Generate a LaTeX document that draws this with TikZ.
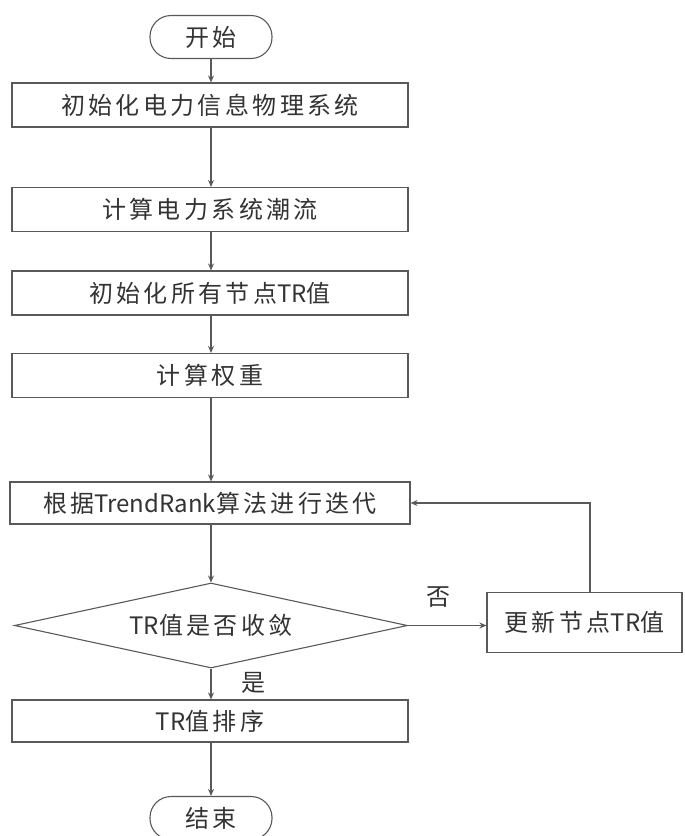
\documentclass[tikz,border=0pt]{standalone}
\usepackage{fontspec}
\setmainfont[LetterSpace=14]{Noto Sans CJK SC}
\newfontfamily\lat{Noto Sans CJK SC}
\usetikzlibrary{arrows.meta,shapes.geometric}
\begin{document}
\begin{tikzpicture}[x=1pt,y=-1pt,
  line/.style={draw=black!65,line width=1.1pt},
  arr/.style={line,-{Stealth[length=7pt,width=6pt]}},
  txt/.style={font=\fontsize{24}{28}\selectfont,text=black!80},
  proc/.style={line,txt,rectangle,minimum width=396pt,minimum height=44pt,inner sep=0pt},
  term/.style={line,txt,rectangle,rounded corners=21pt,minimum width=122pt,minimum height=43pt,inner sep=0pt},
  dec/.style={line,txt,diamond,aspect=4.6,minimum width=393pt,minimum height=85pt,inner sep=0pt},
  lbl/.style={txt,inner sep=0pt}]
\useasboundingbox (0,0) rectangle (685,836);
\node[term] (start) at (211,37) {开始};
\node[proc] (b1) at (210,105) {初始化电力信息物理系统};
\node[proc] (b2) at (210,209.5) {计算电力系统潮流};
\node[proc] (b3) at (210,293) {初始化所有节点{\lat TR}值};
\node[proc] (b4) at (210,375.5) {计算权重};
\node[proc,minimum width=400pt,minimum height=42pt] (b5) at (210,503) {根据{\lat TrendRank}算法进行迭代};
\node[dec] (d) at (211,625.5) {{\lat TR}值是否收敛};
\node[proc,minimum width=195pt,minimum height=60pt] (up) at (584.5,622.5) {更新节点{\lat TR}值};
\node[proc,minimum height=42pt] (b6) at (210,721) {{\lat TR}值排序};
\node[term] (end) at (211,818) {结束};
\coordinate (c1) at (590,503);
\node[lbl] (no) at (438,597) {否};
\node[lbl] (yes) at (253,683) {是};
\draw[arr] (start.south -| 211,0) -- (b1.north -| 211,0);
\draw[arr] (b1.south -| 211,0) -- (b2.north -| 211,0);
\draw[arr] (b2.south -| 211,0) -- (b3.north -| 211,0);
\draw[arr] (b3.south -| 211,0) -- (b4.north -| 211,0);
\draw[arr] (b4.south -| 211,0) -- (b5.north -| 211,0);
\draw[arr] (b5.south -| 211,0) -- (d.north);
\draw[arr] (d.east) -- (d.east -| up.west);
\draw[arr] (up.north -| c1) -- (c1) -- (b5.east);
\draw[arr] (d.south) -- (b6.north -| d.south);
\draw[arr] (b6.south -| 211,0) -- (end.north);
\end{tikzpicture}
\end{document}
